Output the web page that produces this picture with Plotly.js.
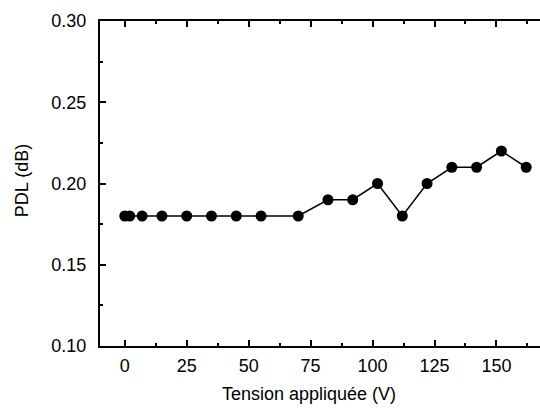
<!DOCTYPE html>
<html>
<head>
<meta charset="utf-8">
<script src="https://cdn.plot.ly/plotly-3.0.1.min.js"></script>
<style>
html,body{margin:0;padding:0;overflow:hidden;background:#fff;}
#chart{width:546px;height:409px;}
</style>
</head>
<body>
<div id="chart"></div>
<script>
const voltage = [0, 2, 7, 15, 25, 35, 45, 55, 70, 82, 92, 102, 112, 122, 132, 142, 152, 162];
const pdl = [0.18, 0.18, 0.18, 0.18, 0.18, 0.18, 0.18, 0.18, 0.18, 0.19, 0.19, 0.20, 0.18, 0.20, 0.21, 0.21, 0.22, 0.21];
const xTickVals = [0, 25, 50, 75, 100, 125, 150];
const yTickVals = [0.10, 0.15, 0.20, 0.25, 0.30];
const yTickText = ['0.10', '0.15', '0.20', '0.25', '0.30'];
const xTitle = 'Tension appliquée (V)';
const yTitle = 'PDL (dB)';

const font = {family: 'Liberation Sans, Arial, sans-serif', size: 18, color: '#000'};

const trace = {
  x: voltage, y: pdl, type: 'scatter', mode: 'lines+markers',
  line: {color: '#000', width: 1.5},
  marker: {color: '#000', size: 11, symbol: 'circle'},
  hoverinfo: 'skip', showlegend: false
};

const axisCommon = {
  showgrid: false, zeroline: false, showline: true, linecolor: '#000', linewidth: 2,
  ticks: 'inside', ticklen: 6, tickwidth: 2, tickcolor: '#000', mirror: 'ticks',
  tickfont: font
};

const layout = {
  width: 546, height: 409,
  margin: {l: 100, r: 0, t: 21, b: 63},
  paper_bgcolor: '#fff', plot_bgcolor: '#fff',
  font: font,
  xaxis: Object.assign({}, axisCommon, {
    range: [-10, 170], tickvals: xTickVals, ticklabelstandoff: 2,
    minor: {dtick: 12.5, tick0: 0, ticks: 'inside', ticklen: 3, tickwidth: 2, tickcolor: '#000'}
  }),
  yaxis: Object.assign({}, axisCommon, {
    range: [0.10, 0.30], tickvals: yTickVals, ticktext: yTickText, ticklabelstandoff: 8,
    minor: {dtick: 0.025, tick0: 0.10, ticks: 'inside', ticklen: 3, tickwidth: 2, tickcolor: '#000'}
  }),
  annotations: [
    {text: xTitle, xref: 'paper', yref: 'paper', x: (309 - 100) / 446, y: -0.148,
     xanchor: 'center', yanchor: 'middle', showarrow: false, font: font},
    {text: yTitle, xref: 'paper', yref: 'paper', x: -0.175, y: 0.51, textangle: -90,
     xanchor: 'center', yanchor: 'middle', showarrow: false, font: font}
  ]
};

Plotly.newPlot('chart', [trace], layout, {displayModeBar: false, staticPlot: true});
</script>
</body>
</html>
